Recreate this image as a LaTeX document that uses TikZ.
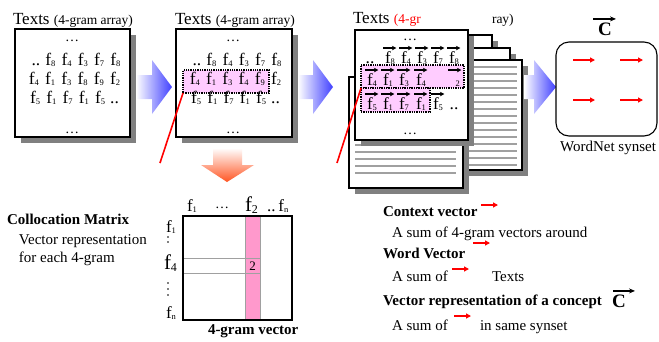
\documentclass[tikz,border=0pt]{standalone}
\usepackage{fontspec}
\setmainfont{Liberation Serif}
\usetikzlibrary{arrows.meta}
\definecolor{shadowgray}{HTML}{808080}
\definecolor{palepink}{HTML}{FFCCFF}
\definecolor{colpink}{HTML}{FF99CC}
\definecolor{arrowblue}{HTML}{4040FF}
\definecolor{arroworange}{HTML}{FF5522}
\definecolor{linegray}{HTML}{A0A0A0}
\newcommand\ff[1]{f\raisebox{-1.5pt}{\fontsize{8.5}{8.5}\selectfont#1}}
\newcommand\gp{\hspace{6.2pt}}
\newcommand\vecf[4]{%
  \node[vtxt] (#1) at (#2,#3) {\ff{#4}};
  \draw[vecarrow] ([shift={(-2pt,3pt)}]#1.north west) -- ([shift={(1.5pt,3pt)}]#1.north east);}
\begin{document}
\begin{tikzpicture}[x=1pt,y=-1pt,
  every node/.style={inner sep=0pt,outer sep=0pt},
  ttl/.style={anchor=base west,font=\fontsize{17}{17}\selectfont},
  pbox/.style={draw=black,line width=1.2pt,fill=white,anchor=north west},
  shd/.style={fill=shadowgray,anchor=north west},
  rowt/.style={anchor=base,font=\fontsize{17.5}{17.5}\selectfont},
  dotst/.style={anchor=base,font=\fontsize{14}{14}\selectfont},
  pinkrow/.style={draw=black,line width=1.3pt,densely dotted,fill=palepink,anchor=north west},
  vtxt/.style={anchor=base west,font=\fontsize{17}{17}\selectfont},
  vecarrow/.style={-{Stealth[length=4.5pt,width=4.5pt]},line width=1.2pt},
  bigvec/.style={-{Stealth[length=6pt,width=5pt]},line width=1.4pt},
  redline/.style={red,line width=1.6pt},
  redarrow/.style={red,line width=1.5pt,-{Triangle[length=5pt,width=5pt]}},
  bodyt/.style={anchor=base west,font=\fontsize{15}{15}\selectfont},
  boldt/.style={anchor=base west,font=\fontsize{15}{15}\selectfont\bfseries},
  pagebox/.style={draw=black,line width=1.1pt,fill=white},
  pageline/.style={linegray,line width=1.3pt},
  labt/.style={anchor=base west,font=\fontsize{17}{17}\selectfont},
  bigC/.style={anchor=base,font=\fontsize{19}{19}\selectfont\bfseries},
]
\useasboundingbox[fill=white] (0,0) rectangle (659,341);

% ---------- panel 1
\node[shd,minimum width=115pt,minimum height=108pt] (box1s) at (21,35) {};
\node[pbox,minimum width=115pt,minimum height=108pt] (box1) at (15,29) {};
\node[ttl] (t1) at (13,24) {Texts {\fontsize{13.5}{13.5}\selectfont(4-gram array)}};
\node[dotst] (d1a) at (72,41) {\ldots};
\node[rowt] (r1a) at (76,65) {..\hspace{5pt}\ff8\gp\ff4\gp\ff3\gp\ff7\gp\ff8};
\node[rowt] (r1b) at (74.5,84) {\ff4\gp\ff1\gp\ff3\gp\ff8\gp\ff9\gp\ff2};
\node[rowt] (r1c) at (74.5,103) {\ff5\gp\ff1\gp\ff7\gp\ff1\gp\ff5\hspace{5pt}..};
\node[dotst] (d1b) at (72,133) {\ldots};

% ---------- panel 2
\node[shd,minimum width=116pt,minimum height=108pt] (box2s) at (182,35) {};
\node[pbox,minimum width=116pt,minimum height=108pt] (box2) at (176,29) {};
\node[ttl] (t2) at (175,24) {Texts {\fontsize{13.5}{13.5}\selectfont(4-gram array)}};
\node[dotst] (d2a) at (233,41) {\ldots};
\node[rowt] (r2a) at (237,65) {..\hspace{5pt}\ff8\gp\ff4\gp\ff3\gp\ff7\gp\ff8};
\node[pinkrow,minimum width=86pt,minimum height=23pt] (pinkA) at (183,70) {};
\node[rowt] (r2b) at (235.5,84) {\ff4\gp\ff1\gp\ff3\gp\ff4\gp\ff9\gp\ff2};
\node[rowt] (r2c) at (235.5,103) {\ff5\gp\ff1\gp\ff7\gp\ff1\gp\ff5\hspace{5pt}..};
\node[dotst] (d2b) at (233,133) {\ldots};
\coordinate (rl1) at (160,163);
\draw[redline] (pinkA.south west) -- (rl1);

% ---------- blue arrows
\shade[left color=white,right color=arrowblue] (136,75) -- (152,75) -- (152,60) -- (172,87) -- (152,114) -- (152,99) -- (136,99) -- cycle;
\shade[left color=white,right color=arrowblue] (298,75) -- (313,75) -- (313,60) -- (333,87) -- (313,114) -- (313,99) -- (298,99) -- cycle;

% ---------- panel 3 pages
\fill[shadowgray] (446,41) rectangle (498,146);
\draw[pagebox] (440,35) rectangle (492,140);
\fill[shadowgray] (451,54) rectangle (516,164);
\draw[pagebox] (445,48) rectangle (510,158);
\fill[shadowgray] (461,66) rectangle (528,176);
\draw[pagebox] (455,60) rectangle (522,170);
\foreach \yy in {67,74,...,165} \draw[pageline] (458,\yy) -- (517,\yy);
\fill[shadowgray] (355,83) rectangle (469,194);
\draw[pagebox] (349,77) rectangle (463,188);
\foreach \yy in {89,96,...,173} \draw[pageline] (355,\yy) -- (456,\yy);
\node[shd,minimum width=113pt,minimum height=110pt] (box3s) at (361,36) {};
\node[pbox,minimum width=113pt,minimum height=110pt] (box3) at (355,30) {};
\node[ttl] (t3) at (353,23) {Texts {\fontsize{13.5}{13.5}\selectfont\color{red}(4-gr}};
\node[ttl,font=\fontsize{13.5}{13.5}\selectfont] (t3b) at (492,23) {ray)};
\node[dotst] (d3a) at (410,40) {\ldots};
\node[rowt] (dd3) at (370,63) {..};
\vecf{v11}{385}{63}{8}
\vecf{v12}{401}{63}{4}
\vecf{v13}{417}{63}{3}
\vecf{v14}{433}{63}{7}
\vecf{v15}{449}{63}{8}
\node[pinkrow,minimum width=103pt,minimum height=23pt] (pinkB) at (361,65) {};
\node[pinkrow,minimum width=69pt,minimum height=24pt] (pinkC) at (361,88) {};
\vecf{v21}{367}{85}{4}
\vecf{v22}{383}{85}{1}
\vecf{v23}{399}{85}{3}
\vecf{v24}{416}{85}{4}
\node[vtxt] (v25) at (450,85) {\phantom{f}\raisebox{-1.5pt}{\fontsize{8.5}{8.5}\selectfont 2}};
\draw[vecarrow] ([shift={(-2pt,3pt)}]v25.north west) -- ([shift={(1.5pt,3pt)}]v25.north east);
\vecf{v31}{367}{109}{5}
\vecf{v32}{383}{109}{1}
\vecf{v33}{399}{109}{7}
\vecf{v34}{416}{109}{1}
\vecf{v35}{433}{109}{5}
\node[rowt] (dd3b) at (454,109) {..};
\node[dotst] (d3b) at (410,134) {\ldots};
\coordinate (rl2) at (337,163);
\draw[redline] (pinkB.south west) -- (rl2);

\shade[left color=white,right color=arrowblue] (524,75) -- (534,75) -- (534,60) -- (556,87) -- (534,114) -- (534,99) -- (524,99) -- cycle;

% ---------- synset
\node[draw=black,line width=1.1pt,rounded corners=13pt,minimum width=101pt,minimum height=94pt,anchor=north west,fill=white] (syn) at (556,42) {};
\draw[redarrow] (573,60) -- (595,60);
\draw[redarrow] (620,60) -- (643,60);
\draw[redarrow] (573,100) -- (595,100);
\draw[redarrow] (620,100) -- (643,100);
\node[bigC] (cc1) at (605,35) {C};
\draw[bigvec] ([shift={(-12pt,3.5pt)}]cc1.north) -- ([shift={(11pt,3.5pt)}]cc1.north);
\node[bodyt,anchor=base] (wn) at (608,151) {WordNet synset};

% ---------- orange arrow
\shade[top color=white,bottom color=arroworange] (213,148) -- (242,148) -- (242,165) -- (254,165) -- (227,182) -- (201,165) -- (213,165) -- cycle;

% ---------- left text
\node[boldt] (cm) at (7,224) {Collocation Matrix};
\node[bodyt] (cm1) at (19,244) {Vector representation};
\node[bodyt] (cm2) at (19,262) {for each 4-gram};

% ---------- matrix
\node[fill=colpink,draw=linegray,line width=0.9pt,minimum width=15pt,minimum height=104pt,anchor=north west] (col) at (245,216) {};
\node[draw=linegray,line width=0.9pt,minimum width=77pt,minimum height=15pt,anchor=north west] (rowf) at (183,258) {};
\node[font=\fontsize{13}{13}\selectfont] (cell) at (252.5,266) {2};
\node[draw=black,line width=1.6pt,minimum width=109pt,minimum height=104pt,anchor=north west] (mat) at (183,216) {};
\node[labt] (cf1) at (187,211) {\ff1};
\node[dotst] (cdots) at (222,208) {\ldots};
\node[labt,font=\fontsize{21}{21}\selectfont] (cf2) at (245,211) {f\raisebox{-2pt}{\fontsize{12}{12}\selectfont 2}};
\node[labt] (cfn) at (267,211) {..\hspace{3pt}\ff{n}};
\node[labt] (rf1) at (166,232) {\ff1};
\fill (168,237) circle (0.8) (168,242) circle (0.8);
\node[labt,font=\fontsize{21}{21}\selectfont] (rf4) at (164,269) {f\raisebox{-2pt}{\fontsize{12}{12}\selectfont 4}};
\fill (168,283) circle (0.8) (168,289) circle (0.8) (168,295) circle (0.8);
\node[labt] (rfn) at (166,318) {\ff{n}};
\node[boldt] (mlabel) at (208,334) {4-gram vector};

% ---------- right text
\node[boldt] (ctx) at (383,216) {Context vector};
\draw[redarrow] (481,205) -- (498,205);
\node[bodyt] (ctxd) at (392,237) {A sum of 4-gram vectors around};
\draw[redarrow] (473,243) -- (490,243);
\node[boldt] (wv) at (383,258) {Word Vector};
\node[bodyt] (wvd) at (392,281) {A sum of};
\draw[redarrow] (452,269) -- (469,269);
\node[bodyt] (wvt) at (492,281) {Texts};
\node[boldt] (vr) at (383,305) {Vector representation of a concept};
\node[bigC] (cc2) at (619,307) {C};
\draw[bigvec] ([shift={(-6pt,3.5pt)}]cc2.north) -- ([shift={(16pt,3.5pt)}]cc2.north);
\node[bodyt] (vrd) at (392,330) {A sum of};
\draw[redarrow] (454,316) -- (471,316);
\node[bodyt] (vrs) at (480,330) {in same synset};
\end{tikzpicture}
\end{document}
